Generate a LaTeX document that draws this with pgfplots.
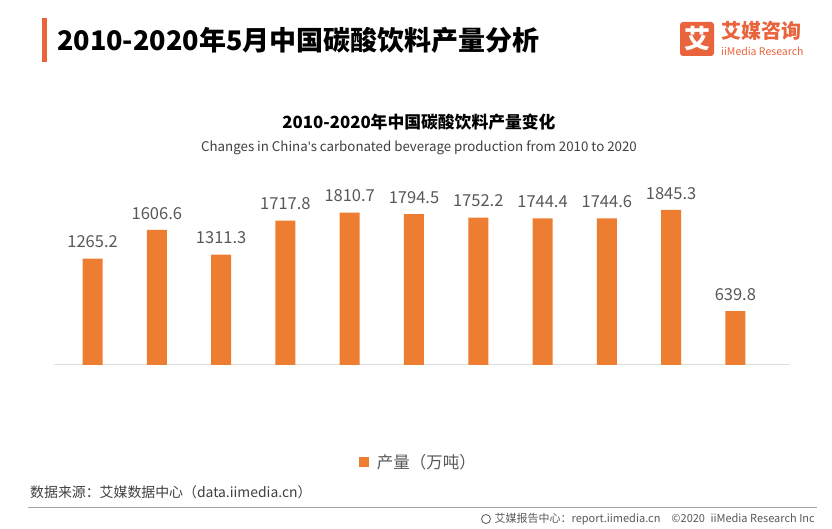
\documentclass[border=0pt]{standalone}
\usepackage{fontspec}
\setmainfont{Noto Sans CJK SC}
\newfontfamily\latin{Noto Sans}
\usepackage{pgfplots}
\pgfplotsset{compat=1.18}
\definecolor{barorange}{HTML}{ED7D31}
\definecolor{brand}{HTML}{E9643C}
\definecolor{labelgray}{HTML}{595959}
\definecolor{txtgray}{HTML}{404040}
\begin{document}
\begin{tikzpicture}[x=1pt,y=1pt]
% page frame 832 x 529, y counted from bottom
\path[fill=white] (0,0) rectangle (832,529);
% header
\fill[brand] (42,467) rectangle (47,511);
\node[anchor=west, inner sep=0, font=\fontsize{27}{29}\selectfont\bfseries] at (57,489) {2010-2020年5月中国碳酸饮料产量分析};
\fill[brand, rounded corners=3pt] (680,473) rectangle (714,507);
\node[text=white, inner sep=0, font=\fontsize{26}{28}\selectfont\bfseries] at (697,490) {艾};
\node[anchor=west, inner sep=0, text=brand, font=\fontsize{20}{22}\selectfont\bfseries] at (721,498) {艾媒咨询};
\node[anchor=west, inner sep=0, text=brand, font=\fontsize{10.5}{12}\selectfont] at (721,478) {iiMedia Research};
% chart titles
\node[inner sep=0, font=\fontsize{16.8}{18}\selectfont\bfseries] at (419,407) {2010-2020年中国碳酸饮料产量变化};
\node[inner sep=0, text=txtgray, font=\fontsize{13.3}{15}\selectfont] at (419,381) {Changes in China{\latin '}s carbonated beverage production from 2010 to 2020};
\begin{axis}[
  at={(54pt,164pt)}, anchor=south west,
  scale only axis, width=736pt, height=185pt,
  xmin=-0.6, xmax=10.85, ymin=0, ymax=2200,
  axis x line*=bottom, axis y line=none,
  x axis line style={draw=gray!25, line width=1pt, -},
  xtick=\empty, ytick=\empty,
  clip=false,
  ybar, bar width=20pt,
  nodes near coords,
  every node near coord/.append style={text=labelgray, font=\fontsize{16.5}{18}\selectfont, yshift=7pt},
  /pgf/number format/.cd, fixed, fixed zerofill, precision=1, use period, 1000 sep={}, assume math mode=true,
  /pgfplots/.cd,
  legend style={at={(0.495,-0.524)}, anchor=center, draw=none, fill=none,
    font=\fontsize{16.5}{18}\selectfont, text=labelgray},
  legend image code/.code={\fill[barorange] (0pt,-5pt) rectangle (10pt,5pt); \path (16pt,0pt);},
]
\addplot[fill=barorange, draw=none] coordinates {
(0,1265.2) (1,1606.6) (2,1311.3) (3,1717.8) (4,1810.7) (5,1794.5)
(6,1752.2) (7,1744.4) (8,1744.6) (9,1845.3) (10,639.8)};
\legend{产量（万吨）}
\end{axis}
% footer
\node[anchor=west, inner sep=0, text=txtgray, font=\fontsize{13.9}{15}\selectfont] at (30,37) {数据来源：艾媒数据中心（data.iimedia.cn）};
\draw[gray!70, line width=0.8pt] (28,22) -- (817,22);
\draw[labelgray, line width=0.8pt] (486,10) circle (4.5pt);
\node[anchor=east, inner sep=0, text=labelgray, font=\fontsize{11}{12}\selectfont] at (815,10) {艾媒报告中心：report.iimedia.cn\quad ©2020\enspace iiMedia Research Inc};
\end{tikzpicture}
\end{document}
